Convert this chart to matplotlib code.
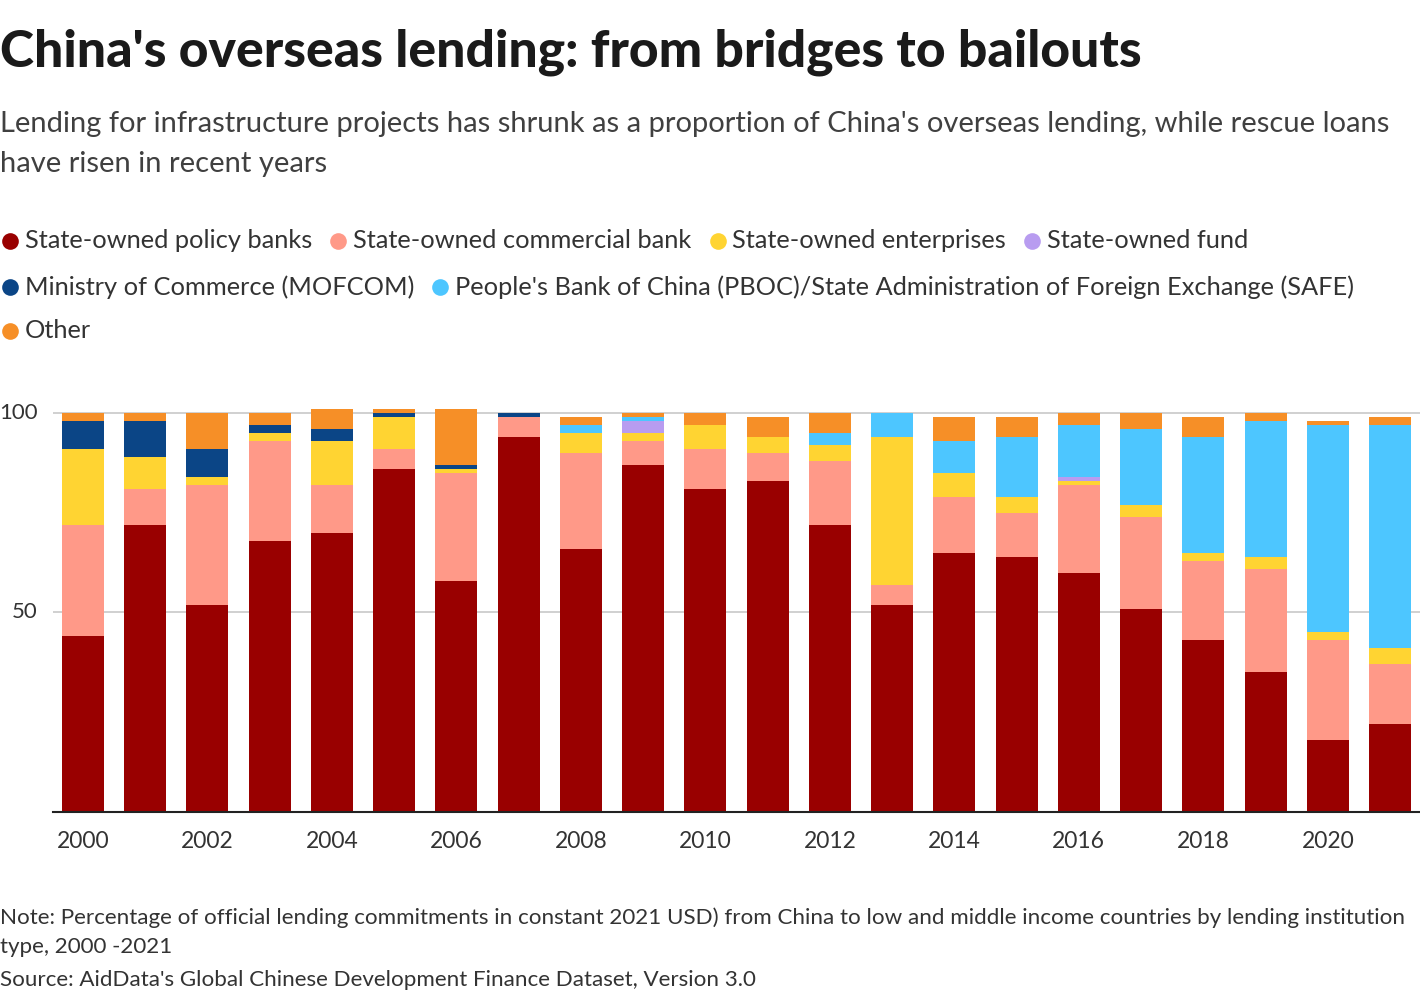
import numpy as np
import matplotlib.pyplot as plt
from matplotlib.lines import Line2D

plt.rcParams['font.family'] = ['Lato', 'DejaVu Sans']

# data: share (%) of official lending commitments by institution type
years = list(range(2000, 2022))
policy = [44, 72, 52, 68, 70, 86, 58, 94, 66, 87, 81, 83, 72, 52, 65, 64, 60, 51, 43, 35, 18, 22]
commercial = [28, 9, 30, 25, 12, 5, 27, 5, 24, 6, 10, 7, 16, 5, 14, 11, 22, 23, 20, 26, 25, 15]
soe = [19, 8, 2, 2, 11, 8, 1, 0, 5, 2, 6, 4, 4, 37, 6, 4, 1, 3, 2, 3, 2, 4]
fund = [0, 0, 0, 0, 0, 0, 0, 0, 0, 3, 0, 0, 0, 0, 0, 0, 1, 0, 0, 0, 0, 0]
mofcom = [7, 9, 7, 2, 3, 1, 1, 1, 0, 0, 0, 0, 0, 0, 0, 0, 0, 0, 0, 0, 0, 0]
pboc = [0, 0, 0, 0, 0, 0, 0, 0, 2, 1, 0, 0, 3, 6, 8, 15, 13, 19, 29, 34, 52, 56]
other = [2, 2, 9, 3, 5, 1, 14, 0, 2, 1, 3, 5, 5, 0, 6, 5, 3, 4, 5, 2, 1, 2]

series = [
    ('State-owned policy banks', policy, '#990000'),
    ('State-owned commercial bank', commercial, '#ff9988'),
    ('State-owned enterprises', soe, '#ffd432'),
    ('State-owned fund', fund, '#b89cf0'),
    ('Ministry of Commerce (MOFCOM)', mofcom, '#0b4586'),
    ("People's Bank of China (PBOC)/State Administration of Foreign Exchange (SAFE)", pboc, '#4dc6ff'),
    ('Other', other, '#f68f27'),
]

W, H = 1420, 1000
fig = plt.figure(figsize=(W / 100, H / 100), dpi=100)

def fx(px):
    return px / W

def fy(py):
    return 1 - py / H

ymax = 102
ax = fig.add_axes([fx(53), fy(812), fx(W - 53), 407 / H])
x = np.arange(len(years))
bottom = np.zeros(len(years))
for name, vals, col in series:
    ax.bar(x, vals, width=0.675, bottom=bottom, color=col, linewidth=0, zorder=3)
    bottom += np.array(vals)

ax.set_xlim(-0.48, len(years) - 0.52)
ax.set_ylim(0, ymax)
ax.set_yticks([50, 100])
ax.yaxis.grid(True, color='#c8c8c8', linewidth=1.2, zorder=0)
for s in ['top', 'right', 'left']:
    ax.spines[s].set_visible(False)
ax.spines['bottom'].set_color('#222222')
ax.spines['bottom'].set_linewidth(1.5)
ax.spines['bottom'].set_zorder(4)
ax.tick_params(axis='y', length=0, labelsize=16, labelcolor='#333333', pad=11)
ax.set_xticks(x[::2])
ax.set_xticklabels([str(y) for y in years[::2]])
ax.tick_params(axis='x', length=0, labelsize=16.5, labelcolor='#333333', pad=14)
for lab in ax.get_yticklabels():
    lab.set_verticalalignment('center')

# titles
fig.text(0, fy(66), "China's overseas lending: from bridges to bailouts", fontsize=37.2,
         fontweight='black', color='#1a1a1a', va='baseline', ha='left')
fig.text(0, fy(132), "Lending for infrastructure projects has shrunk as a proportion of China's overseas lending, while rescue loans",
         fontsize=21, color='#404040', va='baseline', ha='left')
fig.text(0, fy(172), "have risen in recent years", fontsize=21, color='#404040', va='baseline', ha='left')

# legend, laid out in rows
rows = [[0, 1, 2, 3], [4, 5], [6]]
row_y = [241, 287, 331]
fig.canvas.draw()
renderer = fig.canvas.get_renderer()
for r, idxs in zip(row_y, rows):
    cx = 10
    for i in idxs:
        name, vals, col = series[i]
        fig.add_artist(Line2D([fx(cx)], [fy(r)], marker='o', markersize=12, color=col,
                              markeredgewidth=0, linestyle='none'))
        t = fig.text(fx(cx + 15), fy(r), name, fontsize=18.3, color='#333333', va='center', ha='left')
        bb = t.get_window_extent(renderer=renderer)
        cx = cx + 15 + bb.width + 26

# footnotes
fig.text(0, fy(924), "Note: Percentage of official lending commitments in constant 2021 USD) from China to low and middle income countries by lending institution",
         fontsize=16.1, color='#333333', va='baseline', ha='left')
fig.text(0, fy(953), "type, 2000 -2021", fontsize=16.1, color='#333333', va='baseline', ha='left')
fig.text(0, fy(986), "Source: AidData's Global Chinese Development Finance Dataset, Version 3.0",
         fontsize=16.1, color='#333333', va='baseline', ha='left')

fig.savefig('out.png', dpi=100)
